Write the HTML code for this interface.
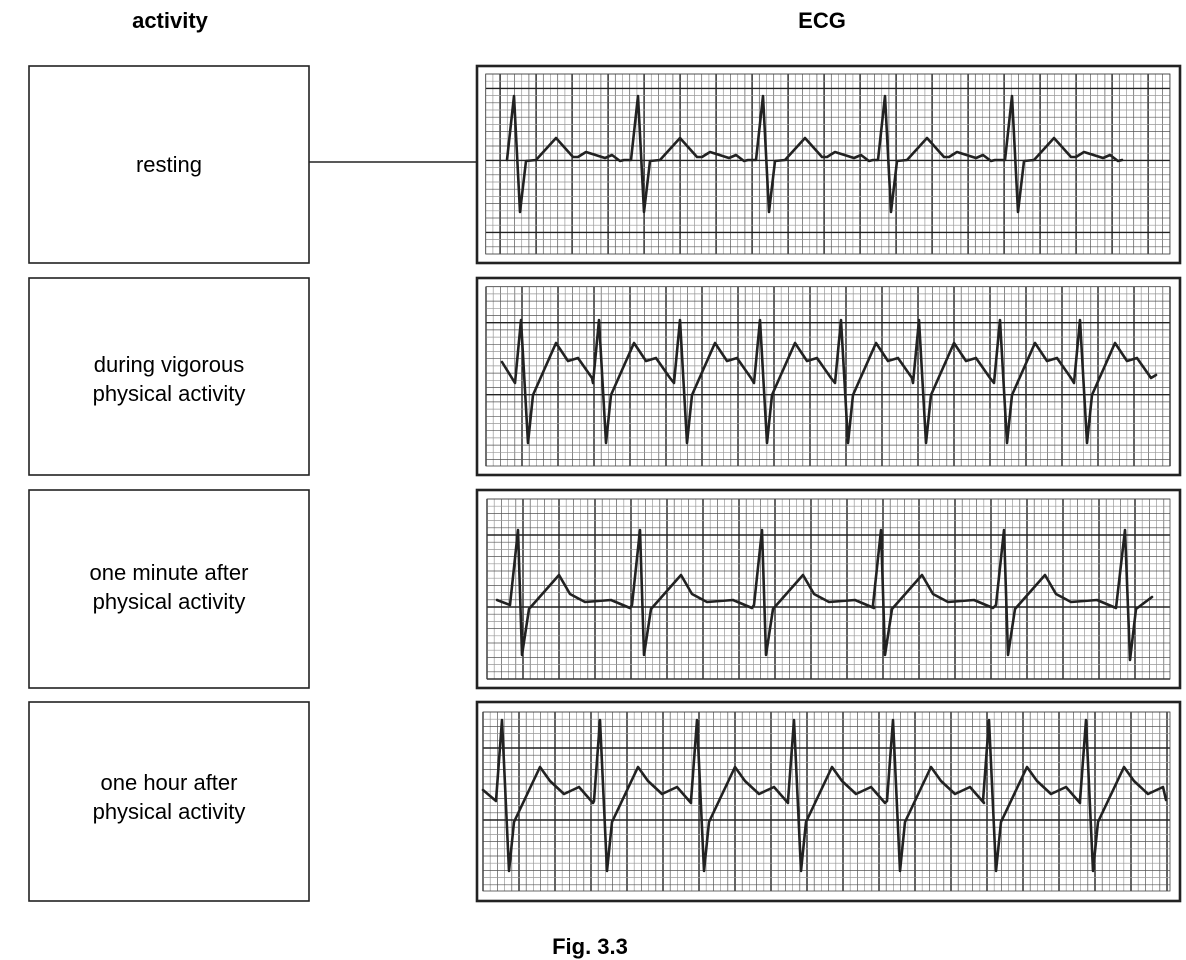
<!DOCTYPE html>
<html><head><meta charset="utf-8"><style>
body{margin:0;width:1186px;height:960px;background:#fff;overflow:hidden;font-family:"Liberation Sans",sans-serif;}
svg{position:absolute;left:0;top:0}
</style></head><body>
<svg id="s" width="1186" height="960" xmlns="http://www.w3.org/2000/svg">
<g font-family="Liberation Sans, sans-serif" fill="#000">
<text x="170" y="28" font-size="22" font-weight="bold" text-anchor="middle">activity</text>
<text x="822" y="28" font-size="22" font-weight="bold" text-anchor="middle">ECG</text>
<text x="590" y="954" font-size="22" font-weight="bold" text-anchor="middle">Fig. 3.3</text>
<g font-size="22" text-anchor="middle">
<text x="169" y="172">resting</text>
<text x="169" y="372">during vigorous</text>
<text x="169" y="401">physical activity</text>
<text x="169" y="580">one minute after</text>
<text x="169" y="609">physical activity</text>
<text x="169" y="790">one hour after</text>
<text x="169" y="819">physical activity</text>
</g>
</g>
<g fill="none" stroke="#222" stroke-width="1.6">
<rect x="29" y="66" width="280" height="197"/>
<rect x="29" y="278" width="280" height="197"/>
<rect x="29" y="490" width="280" height="198"/>
<rect x="29" y="702" width="280" height="199"/>
<line x1="309" y1="162" x2="476" y2="162"/>
</g>
<g id="g"></g>
</svg>
<script>
var g=document.getElementById('g'),h='';
var panels=[
 {oy:66,oh:197,gx:485.7,gy:74,gb:254,off:2},
 {oy:278,oh:197,gx:486,gy:286.7,gb:466,off:5},
 {oy:490,oh:198,gx:487,gy:499,gb:679,off:5},
 {oy:702,oh:199,gx:483,gy:712,gb:891,off:5}];
var s=7.2;
panels.forEach(function(p){
 var gr=1170;
 h+='<rect x="477" y="'+p.oy+'" width="703" height="'+p.oh+'" fill="none" stroke="#222" stroke-width="2.6"/>';
 var i=0;
 for(var x=p.gx;x<=gr+0.5;x+=s,i++){
  var k=(i-p.off)%5==0;
  h+='<line x1="'+x+'" y1="'+p.gy+'" x2="'+x+'" y2="'+p.gb+'" stroke="'+(k?'#222':(i%2?'#999':'#555'))+'" stroke-width="'+(k?1.4:0.7)+'"/>';
 }
 i=0;
 for(var y=p.gy;y<=p.gb+0.5;y+=s,i++){
  var k=(i-p.off)%10==0;
  h+='<line x1="'+p.gx+'" y1="'+y+'" x2="'+gr+'" y2="'+y+'" stroke="'+(k?'#222':(i%2?'#999':'#555'))+'" stroke-width="'+(k?1.4:0.7)+'"/>';
 }
 h+='<rect x="'+p.gx+'" y="'+p.gy+'" width="'+(gr-p.gx)+'" height="'+(p.gb-p.gy)+'" fill="none" stroke="#444" stroke-width="0.8"/>';
});
function wave(peaks,shape,pre,post,maxX){
 var pts=pre.slice();
 peaks.forEach(function(r,j){
  shape.forEach(function(q,n){ if(j==0&&n==0)return; if(r+q[0]>maxX)return; pts.push([r+q[0],q[1]]);});
 });
 pts=pts.concat(post);
 return '<polyline fill="none" stroke="#222" stroke-width="2.6" stroke-linejoin="round" stroke-linecap="round" points="'+pts.map(function(a){return a[0].toFixed(1)+','+a[1];}).join(' ')+'"/>';
}
h+=wave([514,638,763,885,1012],
 [[-7,160],[0,96],[6,212],[12,161],[22,160],[42,138],[59,157],[64,157],[72,152],[91,158],[98,155],[106,161],[110,160]],
 [[507,160]],[[1122,160]],1120);
h+=wave([521,599,680,760,841,919,1000,1080],
 [[-6,383],[0,320],[7,443],[12,395],[35,343],[47,361],[57,358],[71,378]],
 [[502,362],[515,383]],[[1156,375]],1152);
h+=wave([518,640,762,881,1004],
 [[-8,605],[0,530],[4,655],[11,609],[41,575],[52,594],[67,602],[93,600],[112,608]],
 [[497,600],[510,605]],[[1125,530],[1130,660],[1136,609],[1152,597]],1120);
h+=wave([502,600,697,794,893,989,1086],
 [[-6,801],[0,720],[7,871],[12,822],[38,767],[48,781],[62,794],[77,787],[91,803]],
 [[483,790],[496,801]],[[1166,800]],1164);
g.innerHTML=h;
</script>
</body></html>
